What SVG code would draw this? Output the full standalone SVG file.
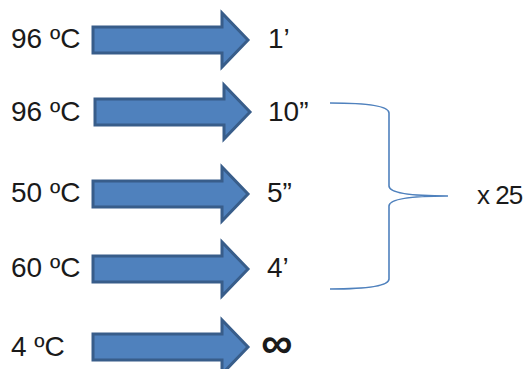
<svg xmlns="http://www.w3.org/2000/svg" width="532" height="369" viewBox="0 0 532 369">
<defs>
<style>
.t{font-family:"Liberation Sans",Arial,sans-serif;font-size:28px;fill:#1a1a1a}
.a{fill:#4F81BD;stroke:#385D8A;stroke-width:3;stroke-linejoin:miter}
.b{fill:none;stroke:#4F81BD;stroke-width:1.6}
</style>
<path id="arr" class="a" d="M0,-13 L129,-13 L129,-27 L155,0 L129,27 L129,13 L0,13 Z"/>
</defs>
<rect width="532" height="369" fill="#fff"/>
<g id="row1"><text class="t" x="11" y="48">96 ºC</text><use href="#arr" x="93" y="40"/><text class="t" x="268" y="48">1’</text></g>
<g id="row2"><text class="t" x="11" y="121">96 ºC</text><use href="#arr" x="95" y="112"/><text class="t" x="268" y="121">10”</text></g>
<g id="row3"><text class="t" x="11" y="202">50 ºC</text><use href="#arr" x="93" y="194"/><text class="t" x="267" y="202">5”</text></g>
<g id="row4"><text class="t" x="11" y="277">60 ºC</text><use href="#arr" x="93" y="269"/><text class="t" x="267" y="277">4’</text></g>
<g id="row5"><text class="t" x="11" y="356">4 ºC</text><use href="#arr" x="93" y="347"/><text class="t" x="261" y="358" style="font-size:44px;font-weight:bold">∞</text></g>
<g id="connectors">
<path class="b" d="M330,103 Q389,103 389,113 L389,186 Q389,196 448,196 Q389,196 389,206 L389,279 Q389,289 330,289"/>
</g>
<g id="repeat"><text class="t" x="477" y="204" style="font-size:26px;letter-spacing:-1px">x 25</text></g>
</svg>
